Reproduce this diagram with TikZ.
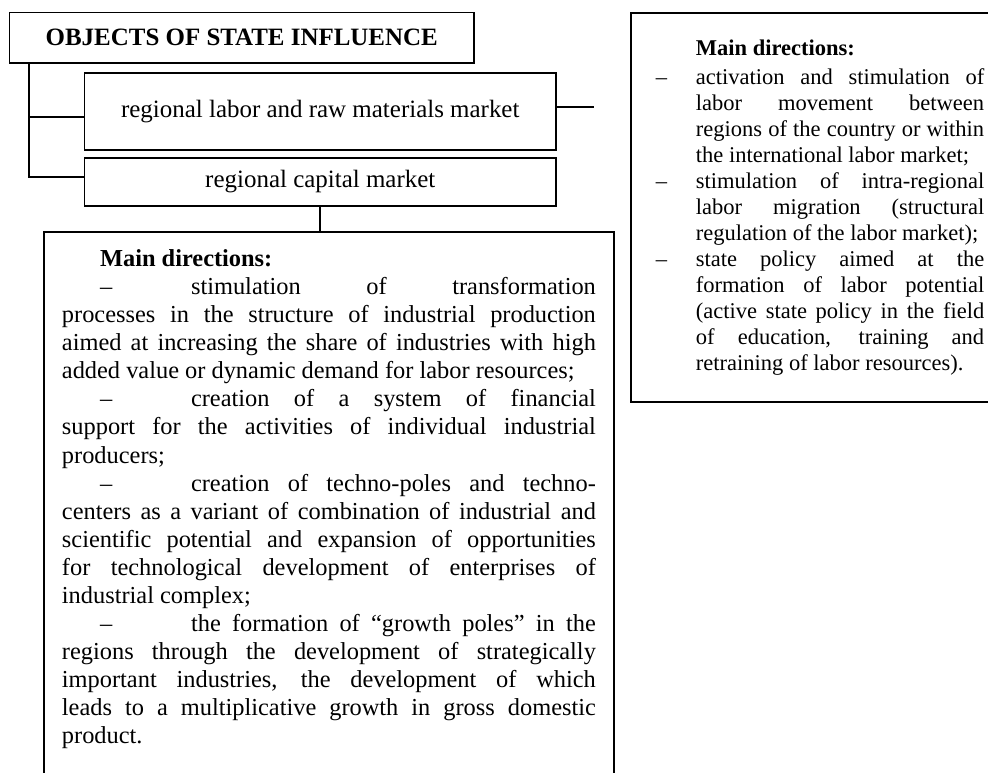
\documentclass[tikz,border=0pt]{standalone}
\usepackage{fontspec}
\setmainfont{Liberation Serif}

\tikzset{
  objbox/.style={draw, line width=1pt, inner sep=0pt, align=center,
    font=\fontsize{13.3}{15.3}\selectfont},
  dirbox/.style={draw, line width=1pt, anchor=north west, align=justify},
}
\newcommand{\dirsetup}{\tolerance=10000\hbadness=10000\hyphenpenalty=10000}
\newcommand{\tabdash}{\makebox[68.8pt][l]{\hspace*{20.3pt}–}}
\newcommand{\hangdash}{\hangindent=21.3pt\hangafter=1\noindent\makebox[21.3pt][l]{–}}

\begin{document}
\begin{tikzpicture}[x=0.533pt,y=-0.533pt]
  \useasboundingbox (0,0) rectangle (988,773);
  \clip (0,0) rectangle (988,773);

  \node[objbox, minimum width=247.6pt, minimum height=26.9pt,
    font=\fontsize{13.3}{15.3}\selectfont\bfseries] (objects) at (241.75,37.75)
    {OBJECTS OF STATE INFLUENCE};
  \node[objbox, minimum width=251.3pt, minimum height=41pt] (labor) at (320.25,111.5)
    {regional labor and raw materials market};
  \node[objbox, minimum width=251.3pt, minimum height=25.6pt] (capital) at (320.25,182)
    {regional capital market};

  % left directions (capital market)
  \node[dirbox, text width=284.6pt, inner xsep=9.6pt, inner ysep=9.5pt,
    font=\fontsize{13}{14.95}\selectfont] (dirleft) at (43,231) {\dirsetup
    \noindent\hspace*{20.3pt}\textbf{Main directions:}\par
    \noindent\tabdash stimulation of transformation\linebreak
    processes in the structure of industrial production\linebreak
    aimed at increasing the share of industries with high\linebreak
    added value or dynamic demand for labor resources;\par
    \noindent\tabdash creation of a system of financial\linebreak
    support for the activities of individual industrial\linebreak
    producers;\par
    \noindent\tabdash creation of techno-poles and techno-\linebreak
    centers as a variant of combination of industrial and\linebreak
    scientific potential and expansion of opportunities\linebreak
    for technological development of enterprises of\linebreak
    industrial complex;\par
    \noindent\tabdash the formation of “growth poles” in the\linebreak
    regions through the development of strategically\linebreak
    important industries, the development of which\linebreak
    leads to a multiplicative growth in gross domestic\linebreak
    product.\par
    \noindent\rule{0pt}{40pt}};

  % right directions (labor market)
  \node[dirbox, text width=175pt, inner xsep=13.3pt, inner ysep=14.4pt,
    font=\fontsize{12}{13.85}\selectfont] (dirright) at (630,12) {\dirsetup
    \noindent\hspace*{21.3pt}\textbf{Main directions:}\par
    \vspace{1.4pt}
    \hangdash activation and stimulation of\linebreak
    labor movement between\linebreak
    regions of the country or within\linebreak
    the international labor market;\par
    \hangdash stimulation of intra-regional\linebreak
    labor migration (structural\linebreak
    regulation of the labor market);\par
    \hangdash state policy aimed at the\linebreak
    formation of labor potential\linebreak
    (active state policy in the field\linebreak
    of education, training and\linebreak
    retraining of labor resources).\par
    \vspace*{-2.2pt}};

  % connectors
  \coordinate (trunk) at ([xshift=10.7pt]objects.south west);
  \coordinate (laborin) at ([yshift=-2.9pt]labor.west);
  \draw[line width=1pt] (trunk) |- ([yshift=2.7pt]capital.west);
  \draw[line width=1pt] (laborin) -- (laborin -| trunk);
  \draw[line width=1pt] ([yshift=2.4pt]labor.east) -- ++(37,0) coordinate (laborout);
  \draw[line width=1pt] (capital.south) -- (capital.south |- dirleft.north);
\end{tikzpicture}
\end{document}
